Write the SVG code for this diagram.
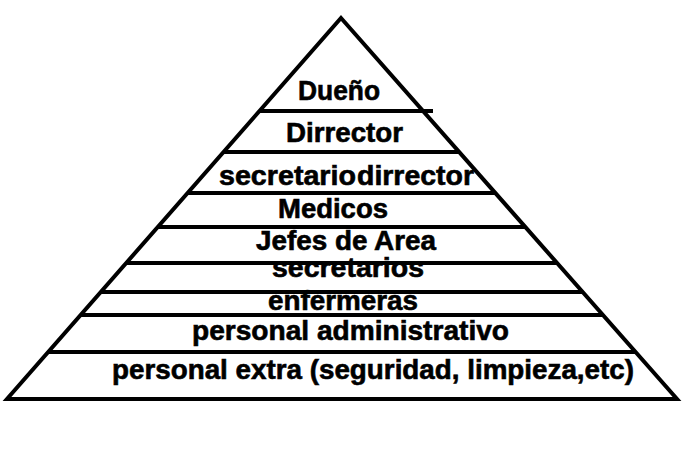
<svg xmlns="http://www.w3.org/2000/svg" width="700" height="456" viewBox="0 0 700 456">
<style>
.t{font-family:"Liberation Sans",Arial,sans-serif;font-weight:bold;font-size:27px;fill:#000;stroke:#000;stroke-width:0.6}
.ln{stroke:#000;stroke-width:4;fill:none}
</style>
<rect width="700" height="456" fill="#fff"/>
<g id="labels">
<g id="tier-dueno"><text class="t" x="298" y="100" textLength="82" lengthAdjust="spacingAndGlyphs">Dueño</text></g>
<g id="tier-director"><text class="t" x="286" y="142" textLength="117" lengthAdjust="spacingAndGlyphs">Dirrector</text></g>
<g id="tier-secretario-director"><text class="t" x="219" y="185" textLength="137" lengthAdjust="spacingAndGlyphs">secretario</text><text class="t" x="357" y="185" textLength="117" lengthAdjust="spacingAndGlyphs">dirrector</text></g>
<g id="tier-medicos"><text class="t" x="278" y="218" textLength="110" lengthAdjust="spacingAndGlyphs">Medicos</text></g>
<g id="tier-jefes"><text class="t" x="256" y="250" textLength="180" lengthAdjust="spacingAndGlyphs">Jefes de Area</text></g>
<g id="tier-secretarios"><text class="t" x="272" y="277" textLength="152" lengthAdjust="spacingAndGlyphs">secretarios</text></g>
<g id="tier-enfermeras"><text class="t" x="268" y="310" textLength="150" lengthAdjust="spacingAndGlyphs">enfermeras</text></g>
<g id="tier-administrativo"><text class="t" x="192" y="340" textLength="317" lengthAdjust="spacingAndGlyphs">personal administrativo</text></g>
<g id="tier-extra"><text class="t" x="112" y="379" textLength="522" lengthAdjust="spacingAndGlyphs">personal extra (seguridad, limpieza,etc)</text></g>
</g>
<g id="dividers" class="ln">
<line x1="259" y1="111" x2="433" y2="111"/>
<line x1="223" y1="152" x2="459" y2="152"/>
<line x1="187" y1="193" x2="495" y2="193"/>
<line x1="158" y1="227" x2="525" y2="227"/>
<line x1="126" y1="263" x2="557" y2="263"/>
<line x1="101" y1="292" x2="582" y2="292"/>
<line x1="81" y1="315" x2="603" y2="315"/>
<line x1="48" y1="352" x2="635" y2="352"/>
</g>
<g id="pyramid"><polygon class="ln" points="341,18 677,399 7,399" stroke-linejoin="miter"/></g>
</svg>
